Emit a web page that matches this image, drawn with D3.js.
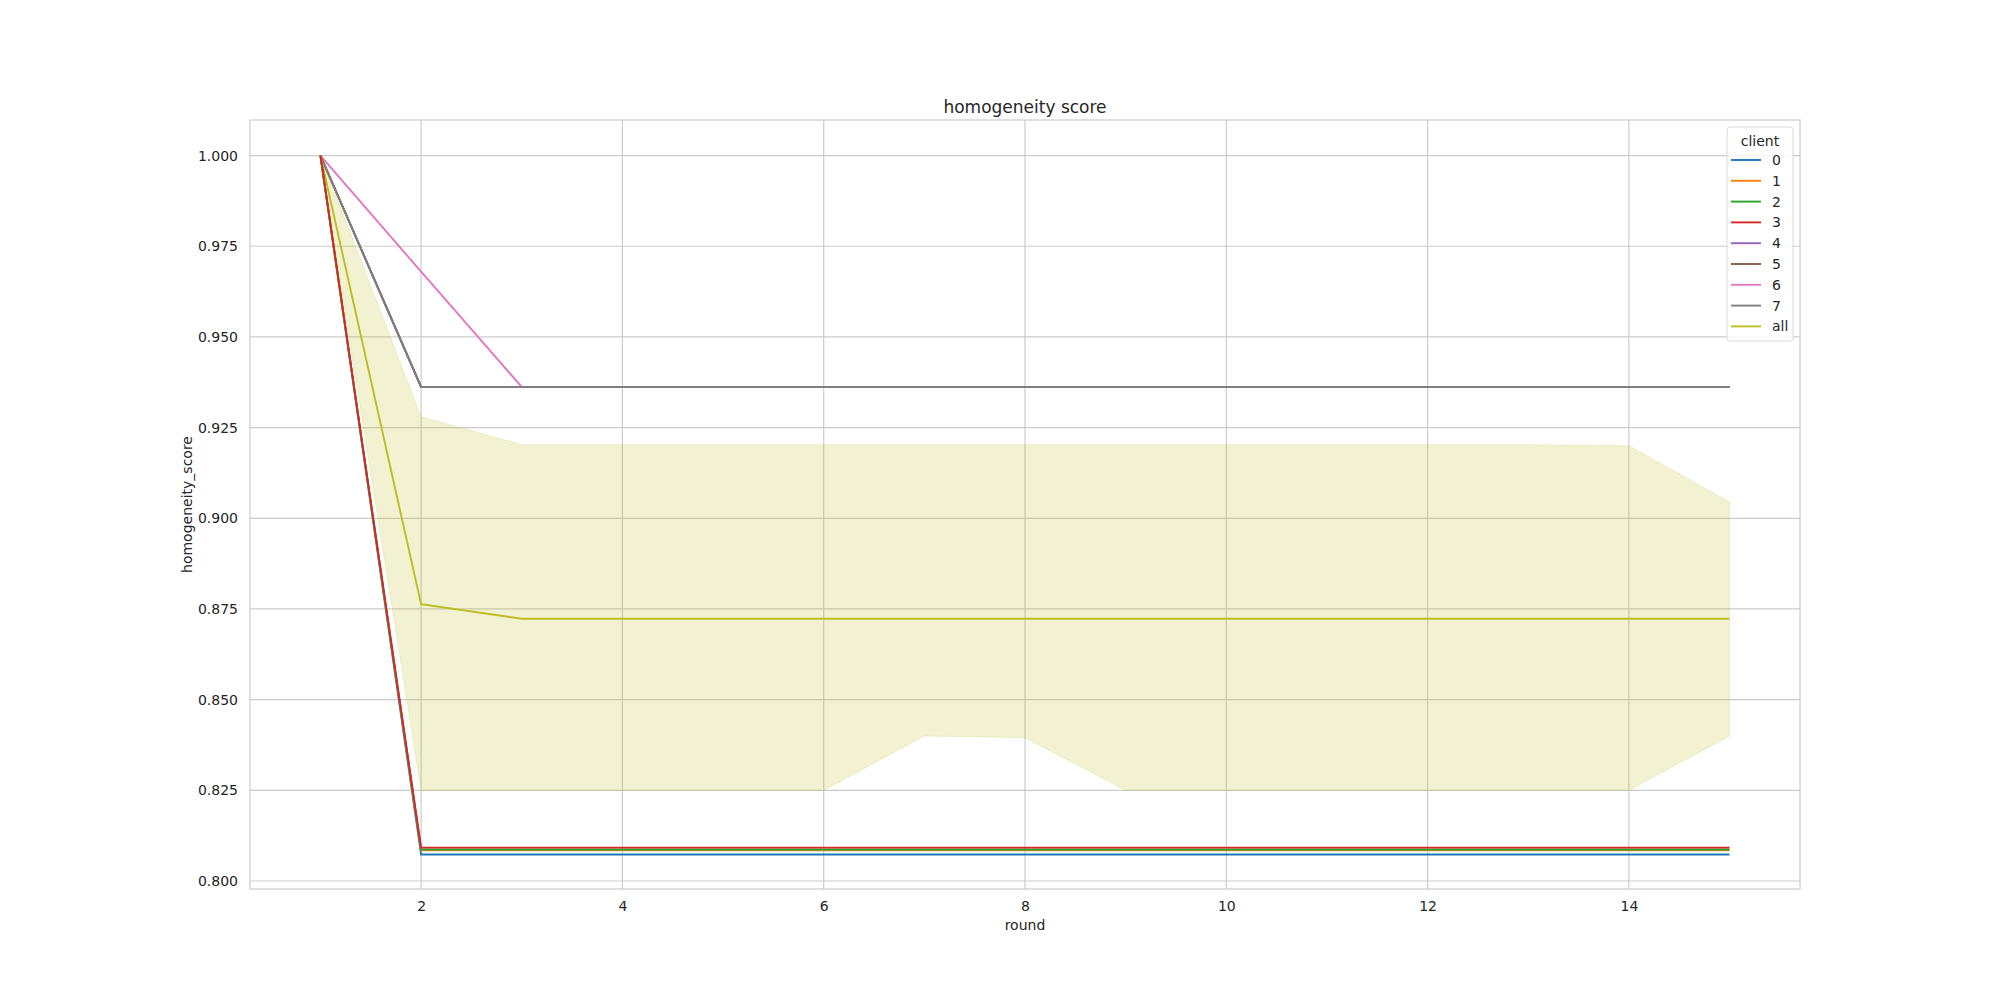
<!DOCTYPE html>
<html>
<head>
<meta charset="utf-8">
<script src="https://cdn.jsdelivr.net/npm/d3@7"></script>
<style>
  body { margin: 0; background: #fff; }
  text { font-family: "DejaVu Sans", sans-serif; fill: #262626; }
</style>
</head>
<body>
<div class="chart"></div>
<script>
// data
const rounds = [1, 2, 3, 4, 5, 6, 7, 8, 9, 10, 11, 12, 13, 14, 15];
const clients = ["0", "1", "2", "3", "4", "5", "6", "7", "all"];
const colors = ["#1f77b4", "#ff7f0e", "#2ca02c", "#d62728", "#9467bd", "#8c564b", "#e377c2", "#7f7f7f", "#bcbd22"];
const low0 = 0.8073, low1 = 0.8085, low2 = 0.8087, low3 = 0.8092, high = 0.9362;
const series0 = [1, low0, low0, low0, low0, low0, low0, low0, low0, low0, low0, low0, low0, low0, low0];
const series1 = [1, low1, low1, low1, low1, low1, low1, low1, low1, low1, low1, low1, low1, low1, low1];
const series2 = [1, low2, low2, low2, low2, low2, low2, low2, low2, low2, low2, low2, low2, low2, low2];
const series3 = [1, low3, low3, low3, low3, low3, low3, low3, low3, low3, low3, low3, low3, low3, low3];
const series4 = [1, high, high, high, high, high, high, high, high, high, high, high, high, high, high];
const series5 = [1, high, high, high, high, high, high, high, high, high, high, high, high, high, high];
const series6 = [1, 0.968, high, high, high, high, high, high, high, high, high, high, high, high, high];
const series7 = [1, high, high, high, high, high, high, high, high, high, high, high, high, high, high];
const seriesAll = [1, 0.8763, 0.8723, 0.8723, 0.8723, 0.8723, 0.8723, 0.8723, 0.8723, 0.8723, 0.8723, 0.8723, 0.8723, 0.8723, 0.8723];
const bandLow = [1, 0.825, 0.825, 0.825, 0.825, 0.825, 0.840, 0.8395, 0.825, 0.825, 0.825, 0.825, 0.825, 0.825, 0.840];
const bandHigh = [1, 0.928, 0.9203, 0.9203, 0.9203, 0.9203, 0.9203, 0.9203, 0.9203, 0.9203, 0.9203, 0.9203, 0.9203, 0.920, 0.9045];
const xTicks = [2, 4, 6, 8, 10, 12, 14];
const yTicks = [0.800, 0.825, 0.850, 0.875, 0.900, 0.925, 0.950, 0.975, 1.000];

const allSeries = [series0, series1, series2, series3, series4, series5, series6, series7, seriesAll];
// draw order: bottom ones last so red sits on top like the reference
const drawOrder = [4, 5, 6, 7, 8, 0, 1, 2, 3];

const W = 2000, H = 1000;
const margin = { top: 120, right: 200, bottom: 111, left: 250 };
const width = W - margin.left - margin.right,
  height = H - margin.top - margin.bottom;

const svg = d3.select(".chart").append("svg").attr("width", W).attr("height", H);
const g = svg.append("g").attr("transform", `translate(${margin.left},${margin.top})`);

const x = d3.scaleLinear().domain([0.3, 15.7]).range([0, width]);
const y = d3.scaleLinear().domain([0.7978, 1.0098]).range([height, 0]);

// grid
g.append("g").selectAll("line").data(xTicks).join("line")
  .attr("x1", d => x(d)).attr("x2", d => x(d)).attr("y1", 0).attr("y2", height)
  .attr("stroke", "#cccccc").attr("stroke-width", 1.2);
g.append("g").selectAll("line").data(yTicks).join("line")
  .attr("y1", d => y(d)).attr("y2", d => y(d)).attr("x1", 0).attr("x2", width)
  .attr("stroke", "#cccccc").attr("stroke-width", 1.2);

// axes
const xAxis = g.append("g").attr("transform", `translate(0,${height})`)
  .call(d3.axisBottom(x).tickValues(xTicks).tickSize(0).tickPadding(12));
const yAxis = g.append("g")
  .call(d3.axisLeft(y).tickValues(yTicks).tickFormat(d3.format(".3f")).tickSize(0).tickPadding(12));
[xAxis, yAxis].forEach(a => {
  a.select(".domain").remove();
  a.selectAll("text").style("font-size", "14px").style("font-family", "DejaVu Sans").attr("fill", "#262626");
});

// confidence band for "all"
const area = d3.area()
  .x((d, i) => x(rounds[i]))
  .y0((d, i) => y(bandLow[i]))
  .y1((d, i) => y(bandHigh[i]));
g.append("path").datum(rounds).attr("d", area)
  .attr("fill", colors[8]).attr("fill-opacity", 0.2)
  .attr("stroke", colors[8]).attr("stroke-opacity", 0.2);

const line = d3.line().x((d, i) => x(rounds[i])).y(d => y(d));
drawOrder.forEach(k => {
  g.append("path").datum(allSeries[k]).attr("d", line)
    .attr("fill", "none").attr("stroke", colors[k]).attr("stroke-width", 1.9);
});

// frame
g.append("rect").attr("width", width).attr("height", height)
  .attr("fill", "none").attr("stroke", "#cccccc").attr("stroke-width", 1.2);

// labels
svg.append("text").attr("x", margin.left + width / 2).attr("y", 113)
  .attr("text-anchor", "middle").style("font-size", "17px").text("homogeneity score");
svg.append("text").attr("x", margin.left + width / 2).attr("y", 930)
  .attr("text-anchor", "middle").style("font-size", "14px").text("round");
svg.append("text").attr("transform", `translate(192,${margin.top + height / 2}) rotate(-90)`)
  .attr("text-anchor", "middle").style("font-size", "14px").text("homogeneity_score");

// legend
const lg = svg.append("g").attr("transform", "translate(1727,127)");
lg.append("rect").attr("width", 66).attr("height", 214).attr("rx", 3)
  .attr("fill", "#fff").attr("fill-opacity", 0.8).attr("stroke", "#d9d9d9");
lg.append("text").attr("x", 33).attr("y", 19).attr("text-anchor", "middle")
  .style("font-size", "14px").text("client");
clients.forEach((c, i) => {
  const yy = 33 + i * 20.8;
  lg.append("line").attr("x1", 4).attr("x2", 34).attr("y1", yy).attr("y2", yy)
    .attr("stroke", colors[i]).attr("stroke-width", 1.9);
  lg.append("text").attr("x", 45).attr("y", yy + 5).style("font-size", "14px").text(c);
});
</script>
</body>
</html>
